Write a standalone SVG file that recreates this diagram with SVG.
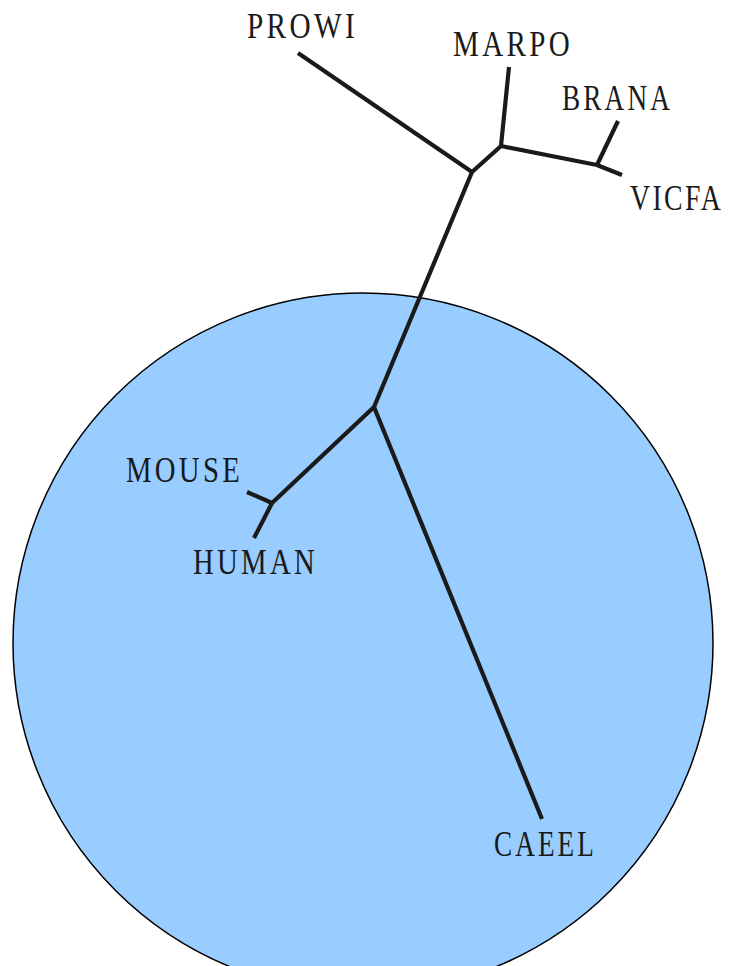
<svg xmlns="http://www.w3.org/2000/svg" width="729" height="966" viewBox="0 0 729 966">
<style>
.lbl{font-family:"Liberation Serif","Times New Roman",serif;font-size:35px;fill:#1a1a1a;letter-spacing:4px}
.br{stroke:#1a1a1a;stroke-width:4.2;fill:none;stroke-linecap:butt;stroke-linejoin:miter}
</style>
<rect width="729" height="966" fill="#ffffff"/>
<g id="clade">
<circle cx="363" cy="643" r="350" fill="#99ccff" stroke="#000000" stroke-width="1.5"/>
</g>
<g id="connectors">
<path class="br" d="M298,53 L472,172"/>
<path class="br" d="M472,172 L501,146 L509,67"/>
<path class="br" d="M501,146 L597,165"/>
<path class="br" d="M597,165 L618,121"/>
<path class="br" d="M597,165 L622,175"/>
<path class="br" d="M472,172 L374,407"/>
<path class="br" d="M374,407 L272,503"/>
<path class="br" d="M272,503 L247,492"/>
<path class="br" d="M272,503 L254,538"/>
<path class="br" d="M374,407 L542,819"/>
</g>
<g id="PROWI"><text class="lbl" x="247" y="38" textLength="111" lengthAdjust="spacingAndGlyphs">PROWI</text></g>
<g id="MARPO"><text class="lbl" x="453" y="56" textLength="120" lengthAdjust="spacingAndGlyphs">MARPO</text></g>
<g id="BRANA"><text class="lbl" x="562" y="110" textLength="111" lengthAdjust="spacingAndGlyphs">BRANA</text></g>
<g id="VICFA"><text class="lbl" transform="translate(630,210) scale(0.795,1)" x="0" y="0" style="letter-spacing:3px">VICFA</text></g>
<g id="MOUSE"><text class="lbl" x="126" y="482" textLength="117" lengthAdjust="spacingAndGlyphs">MOUSE</text></g>
<g id="HUMAN"><text class="lbl" x="193" y="574" textLength="125" lengthAdjust="spacingAndGlyphs">HUMAN</text></g>
<g id="CAEEL"><text class="lbl" x="494" y="856" textLength="103" lengthAdjust="spacingAndGlyphs">CAEEL</text></g>
</svg>
